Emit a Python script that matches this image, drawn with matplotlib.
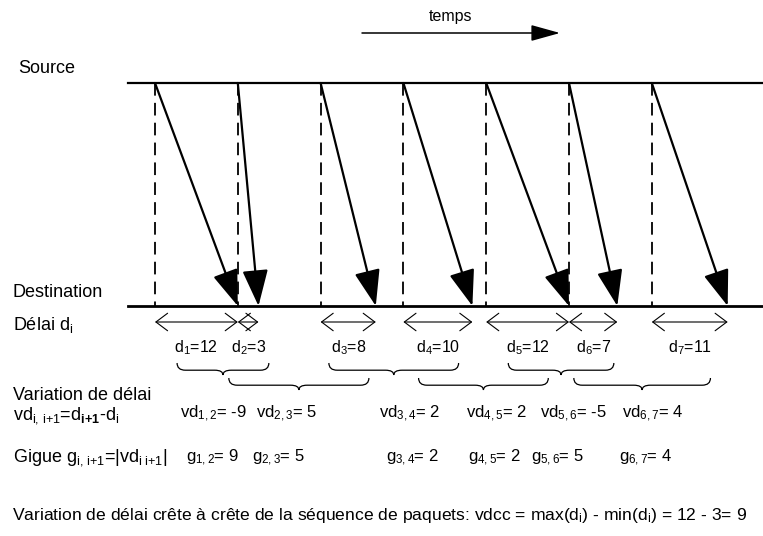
import numpy as np
import matplotlib.pyplot as plt
from matplotlib.path import Path
from matplotlib.patches import PathPatch

plt.rcParams['font.family'] = ['Liberation Sans', 'DejaVu Sans']
plt.rcParams['mathtext.fontset'] = 'custom'
plt.rcParams['mathtext.rm'] = 'Liberation Sans'
plt.rcParams['mathtext.it'] = 'Liberation Sans'
plt.rcParams['mathtext.bf'] = 'Liberation Sans:bold'

# donnees : instants d'emission et delais des paquets
send_t = [0, 12, 24, 36, 48, 60, 72]
delays = [12, 3, 8, 10, 12, 7, 11]
pkt_ids = [1, 2, 3, 4, 5, 6, 7]
# variations de delai et gigue (paires i, i+1)
pair_ids = ["1,2", "2,3", "3,4", "4,5", "5,6", "6,7"]
vd_vals = [-9, 5, 2, 2, -5, 4]
g_vals = [9, 5, 2, 2, 5, 4]
# position du texte des paires (pixels, bord gauche)
vd_left = [180, 256, 379, 466, 540, 622]
g_left = [186, 252, 386, 468, 531, 619]

X0 = 155.0   # pixel du temps 0
SC = 6.9     # pixels par unite de temps
W, H = 763, 536


def px(x):
    return (x - X0) / SC


y_src = 83
y_dst = 306
fs = 13

fig = plt.figure(figsize=(W / 100, H / 100), dpi=100)
ax = fig.add_axes([0, 0, 1, 1])
ax.set_xlim(px(0), px(W))
ax.set_ylim(H, 0)
ax.axis("off")

# axes source / destination
ax.plot([px(128), px(W)], [y_src, y_src], color="black", lw=1.6)
ax.plot([px(128), px(W)], [y_dst, y_dst], color="black", lw=2.0)

arr_t = [s + d for s, d in zip(send_t, delays)]
for s, a in zip(send_t, arr_t):
    ax.plot([s, s], [y_src, y_dst], color="black", lw=1.3, dashes=(7, 4))
    ax.annotate("", xy=(a, y_dst), xytext=(s, y_src),
                arrowprops=dict(arrowstyle="-|>,head_length=0.9,head_width=0.32",
                                mutation_scale=25, lw=1.6, color="black",
                                shrinkA=0, shrinkB=0))

# delais
y_da = 322
for i, s, a, d in zip(pkt_ids, send_t, arr_t, delays):
    ax.annotate("", xy=(a, y_da), xytext=(s, y_da),
                arrowprops=dict(arrowstyle="<->,head_length=0.6,head_width=0.45",
                                mutation_scale=14, lw=0.8, color="black",
                                shrinkA=0, shrinkB=0))
    ax.text((s + a) / 2, 352, "d$_{%d}$=%d" % (i, d), fontsize=11.5,
            ha="center", va="baseline")


def brace(x0, x1, y_top, h):
    xm = (x0 + x1) / 2
    e = 1.2
    yh = y_top + h * 0.6
    verts = [(x0, y_top), (x0, yh), (x0 + e, yh),
             (xm - e, yh), (xm, yh), (xm, y_top + h),
             (xm, yh), (xm + e, yh),
             (x1 - e, yh), (x1, yh), (x1, y_top)]
    codes = [Path.MOVETO, Path.CURVE3, Path.CURVE3, Path.LINETO, Path.CURVE3,
             Path.CURVE3, Path.CURVE3, Path.CURVE3, Path.LINETO, Path.CURVE3,
             Path.CURVE3]
    ax.add_patch(PathPatch(Path(verts, codes), fill=False, lw=0.9,
                           color="black"))


mids = [(s + a) / 2 for s, a in zip(send_t, arr_t)]
for k in range(len(vd_vals)):
    x0 = mids[k] - 2.8
    x1 = mids[k + 1] + 3.0
    y_top = 363 if k % 2 == 0 else 378
    brace(x0, x1, y_top, 12)

for k in range(len(vd_vals)):
    ax.text(px(vd_left[k]), 418, "vd$_{%s}$= %d" % (pair_ids[k], vd_vals[k]),
            fontsize=12, ha="left", va="baseline")
    ax.text(px(g_left[k]), 462, "g$_{%s}$= %d" % (pair_ids[k], g_vals[k]),
            fontsize=12, ha="left", va="baseline")

# textes a gauche
ax.text(px(18), 73, "Source", fontsize=fs, ha="left", va="baseline")
ax.text(px(13), 297, "Destination", fontsize=fs, ha="left", va="baseline")
ax.text(px(13), 330, r"Délai d$_\mathrm{i}$", fontsize=fs, ha="left",
        va="baseline")
ax.text(px(13), 400, "Variation de délai", fontsize=fs, ha="left",
        va="baseline")
ax.text(px(13), 420,
        r"vd$_\mathrm{i,\,i{+}1}$=d$_\mathbf{i{+}1}$-d$_\mathrm{i}$",
        fontsize=fs, ha="left", va="baseline")
ax.text(px(13), 462,
        r"Gigue g$_\mathrm{i,\,i{+}1}$=|vd$_\mathrm{i\ i{+}1}$|",
        fontsize=fs, ha="left", va="baseline")
ax.text(px(12), 520,
        r"Variation de délai crête à crête de la séquence de paquets: "
        r"vdcc = max(d$_\mathrm{i}$) - min(d$_\mathrm{i}$) = 12 - 3= 9",
        fontsize=12.6, ha="left", va="baseline")

# fleche du temps
ax.text(px(451), 21, "temps", fontsize=11.5, ha="center", va="baseline")
ax.annotate("", xy=(px(560), 33), xytext=(px(362), 33),
            arrowprops=dict(arrowstyle="-|>,head_length=0.9,head_width=0.25",
                            mutation_scale=20, lw=1.1, color="black",
                            shrinkA=0, shrinkB=0))

fig.savefig("out.png", dpi=100)
